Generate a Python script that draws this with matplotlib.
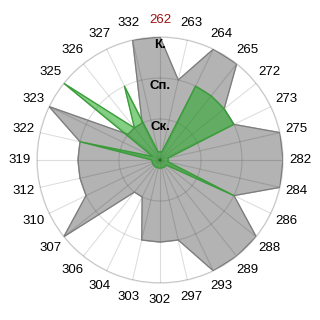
import numpy as np
import matplotlib
matplotlib.use('Agg')
from matplotlib import pyplot as plt

categories = ['262', '263', '264', '265', '272', '273', '275', '282', '284', '286',
              '288', '289', '293', '297', '302', '303', '304', '306', '307', '310',
              '312', '319', '322', '323', '325', '326', '327', '332']
gray_vals = [3, 2, 3, 3, 2, 2, 3, 3, 3, 2, 3, 3, 3, 2, 2, 2, 1, 1, 3, 2,
             2, 2, 2, 3, 1, 1, 1, 3]
green_vals = [0.2, 0.2, 2, 2, 2, 2, 0.2, 0.2, 0.2, 2, 0.2, 0.2, 0.2, 0.2, 0.2, 0.2,
              0.2, 0.2, 0.2, 0.2, 0.2, 0.2, 2, 0.2, 3, 1, 2, 0.2]
ring_vals = [1, 2, 3]
ring_labels = ['Ск.', 'Сп.', 'К.']

plt.rcParams['font.family'] = ['Liberation Sans', 'DejaVu Sans']

n = len(categories)
theta = np.arange(n) * 2 * np.pi / n
tc = np.append(theta, theta[0])

fig = plt.figure(figsize=(3.2, 3.2), dpi=100)
ax = fig.add_axes([37/320, 37/320, 246/320, 246/320], projection='polar')
ax.set_theta_zero_location('N')
ax.set_theta_direction(-1)

g = np.append(gray_vals, gray_vals[0])
ax.fill(tc, g, color='#b3b3b3', zorder=2)
ax.plot(tc, g, color='#7c7c7c', lw=0.9, zorder=3)

gr = np.append(green_vals, green_vals[0])
ax.fill(tc, gr, color='#22a822', alpha=0.55, zorder=4)
ax.plot(tc, gr, color='#3c9a3c', lw=0.8, zorder=5)

ax.set_ylim(0, 3)
ax.set_yticks(ring_vals)
ax.set_yticklabels([])
ax.set_xticks(theta)
ax.set_xticklabels(categories, fontsize=9.5)
ax.get_xticklabels()[0].set_color('#a01010')
ax.tick_params(axis='x', pad=2)
ax.set_axisbelow(False)
ax.grid(True, color='black', alpha=0.13, lw=0.8)
ax.spines['polar'].set_color('#d8d8d8')
ax.spines['polar'].set_linewidth(1)
ax.spines['polar'].set_zorder(1)

for r, lab in zip(ring_vals, ring_labels):
    ax.text(0, r - 0.2, lab, ha='center', va='center', fontsize=9.5,
            fontweight='bold', zorder=6)

fig.savefig('out.png', dpi=100)
